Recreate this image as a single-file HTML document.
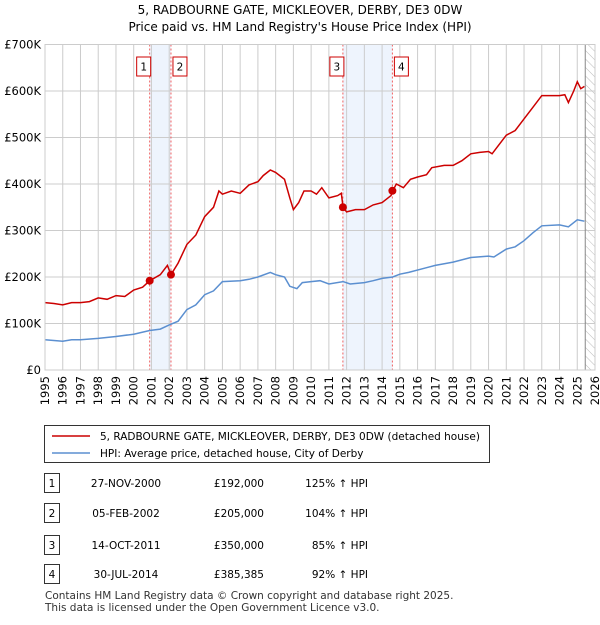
<!DOCTYPE html>
<html><head><meta charset="utf-8"><style>
body{margin:0;background:#fff;font-family:"Liberation Sans","DejaVu Sans",sans-serif;}
svg text{font-family:"DejaVu Sans","Liberation Sans",sans-serif;}
</style></head><body>
<svg id="c" width="600" height="620" xmlns="http://www.w3.org/2000/svg">
<defs><pattern id="hatch" width="6" height="6" patternUnits="userSpaceOnUse" patternTransform="rotate(-45)"><line x1="0" y1="0" x2="0" y2="6" stroke="#bbb" stroke-width="1"/></pattern></defs>
<text x="300" y="14" text-anchor="middle" font-size="12">5, RADBOURNE GATE, MICKLEOVER, DERBY, DE3 0DW</text>
<text x="300" y="31" text-anchor="middle" font-size="12">Price paid vs. HM Land Registry's House Price Index (HPI)</text>
<g id="plot"></g>
<g>
<rect x="44.5" y="425.5" width="445" height="37" fill="#fff" stroke="#333"/>
<line x1="52" y1="436" x2="90" y2="436" stroke="#cc0000" stroke-width="1.5"/>
<text x="100" y="440" font-size="10.5">5, RADBOURNE GATE, MICKLEOVER, DERBY, DE3 0DW (detached house)</text>
<line x1="52" y1="453" x2="90" y2="453" stroke="#5b8fd0" stroke-width="1.5"/>
<text x="100" y="457" font-size="10.5">HPI: Average price, detached house, City of Derby</text>
</g>
<g id="table" font-size="10.5"></g>
<text x="45" y="599" font-size="10.5" fill="#333">Contains HM Land Registry data © Crown copyright and database right 2025.</text>
<text x="45" y="611" font-size="10.5" fill="#333">This data is licensed under the Open Government Licence v3.0.</text>
</svg>
<script>
const yTickLabels=["£0","£100K","£200K","£300K","£400K","£500K","£600K","£700K"];
const yTickValues=[0,100,200,300,400,500,600,700];
const years=[1995,1996,1997,1998,1999,2000,2001,2002,2003,2004,2005,2006,2007,2008,2009,2010,2011,2012,2013,2014,2015,2016,2017,2018,2019,2020,2021,2022,2023,2024,2025,2026];
const redT=[1995,1995.5,1996,1996.5,1997,1997.5,1998,1998.5,1999,1999.5,2000,2000.5,2000.9,2001.5,2001.9,2002.1,2002.5,2003,2003.5,2004,2004.5,2004.8,2005,2005.5,2006,2006.5,2007,2007.3,2007.7,2008,2008.5,2008.8,2009,2009.3,2009.6,2010,2010.3,2010.6,2011,2011.5,2011.7,2011.8,2012,2012.5,2013,2013.5,2014,2014.5,2014.6,2014.8,2015.2,2015.6,2016,2016.5,2016.8,2017.5,2018,2018.5,2019,2019.5,2020,2020.2,2020.5,2021,2021.5,2022,2022.5,2023,2023.5,2024,2024.3,2024.5,2024.8,2025,2025.2,2025.4];
const redV=[145,143,140,145,145,147,155,152,160,158,172,178,192,205,225,205,230,270,290,330,350,385,378,385,380,398,405,418,430,425,410,370,345,360,385,385,378,392,370,375,380,350,340,345,345,355,360,375,385,400,392,410,415,420,435,440,440,450,465,468,470,465,480,505,515,540,565,590,590,590,592,575,600,620,605,610];
const blueT=[1995,1996,1996.5,1997,1998,1999,2000,2000.9,2001.5,2002,2002.5,2003,2003.5,2004,2004.5,2005,2006,2006.5,2007,2007.7,2008,2008.5,2008.8,2009.2,2009.5,2010,2010.5,2011,2011.8,2012.2,2013,2013.5,2014,2014.6,2015,2015.5,2016.5,2017,2018,2019,2020,2020.3,2021,2021.5,2022,2022.5,2023,2024,2024.5,2025,2025.4];
const blueV=[65,62,65,65,68,72,77,85,88,97,105,130,140,162,170,190,192,195,200,210,205,200,180,175,188,190,192,185,190,185,188,192,197,200,206,210,220,225,232,242,245,243,260,265,278,295,310,312,308,323,320];
const saleLabels=["1","2","3","4"];
const saleT=[2000.9,2002.1,2011.79,2014.58];
const saleV=[192,205,350,385.385];
const saleDates=["27-NOV-2000","05-FEB-2002","14-OCT-2011","30-JUL-2014"];
const salePrices=["£192,000","£205,000","£350,000","£385,385"];
const saleHpi=["125% ↑ HPI","104% ↑ HPI","85% ↑ HPI","92% ↑ HPI"];
const X0=45,X1=595,Y0=370,Y1=44.5;
const x=t=>X0+(t-1995)/(2026-1995)*(X1-X0);
const y=v=>Y0-v/700*(Y0-Y1);
const NS="http://www.w3.org/2000/svg";
const plot=document.getElementById('plot');
function mk(tag,at,parent){const e=document.createElementNS(NS,tag);for(const k in at)e.setAttribute(k,at[k]);(parent||plot).appendChild(e);return e;}
let e;
e=mk('rect',{x:x(saleT[0]),y:Y1,width:x(saleT[1])-x(saleT[0]),height:Y0-Y1,fill:'#eef4fd'});


e=mk('rect',{x:x(saleT[2]),y:Y1,width:x(saleT[3])-x(saleT[2]),height:Y0-Y1,fill:'#eef4fd'});


e=mk('rect',{x:x(2025.45),y:Y1,width:X1-x(2025.45),height:Y0-Y1,fill:'url(#hatch)'});


years.forEach(yr=>{
 e=mk('line',{x1:x(yr),x2:x(yr),y1:Y1,y2:Y0,stroke:'#ccc','stroke-width':1});
 
 
 e=mk('text',{x:0,y:0,'font-size':11.5,'text-anchor':'end',transform:`translate(${x(yr)+4},${Y0+6}) rotate(-90)`});
 e.textContent=yr;
 
 
});
yTickValues.forEach((v,i)=>{
 e=mk('line',{x1:X0,x2:X1,y1:y(v),y2:y(v),stroke:'#ccc','stroke-width':1});
 
 
 e=mk('text',{x:X0-4,y:y(v)+4,'font-size':11.5,'text-anchor':'end'});
 e.textContent=yTickLabels[i];
 
 
});
e=mk('line',{x1:x(2025.45),x2:x(2025.45),y1:Y1,y2:Y0,stroke:'#888','stroke-width':1});


saleT.forEach((t,i)=>{
 e=mk('line',{x1:x(t),x2:x(t),y1:Y1,y2:Y0,stroke:'#f06060','stroke-width':1,'stroke-dasharray':'2,2'});
 
 
});
const pts=(T,V)=>T.map((t,i)=>x(t).toFixed(1)+','+y(V[i]).toFixed(1)).join(' ');
e=mk('polyline',{points:pts(blueT,blueV),fill:'none',stroke:'#5b8fd0','stroke-width':1.5});


e=mk('polyline',{points:pts(redT,redV),fill:'none',stroke:'#cc0000','stroke-width':1.5});


saleT.forEach((t,i)=>{
 e=mk('circle',{cx:x(t),cy:y(saleV[i]),r:4,fill:'#cc0000'});
 
 
 const bx=x(t)-(i%2==0?13:-2);
 e=mk('rect',{x:bx,y:57,width:14,height:19,fill:'#fff',stroke:'#cc0000'});
 
 
 e=mk('text',{x:bx+7,y:70.5,'font-size':10.5,'text-anchor':'middle'});
 e.textContent=saleLabels[i];
 
 
});
e=mk('rect',{x:X0,y:Y1,width:X1-X0,height:Y0-Y1,fill:'none',stroke:'#ccc'});


const tbl=document.getElementById('table');
const rowY=[483,513,545,574];
saleLabels.forEach((l,i)=>{
 const ry=rowY[i];
 e=mk('rect',{x:44.5,y:ry-9.5,width:15,height:19,fill:'#fff',stroke:'#333'},tbl);
 
 
 e=mk('text',{x:52,y:ry+4,'text-anchor':'middle'},tbl);e.textContent=l;
 
 
 e=mk('text',{x:126,y:ry+4,'text-anchor':'middle'},tbl);e.textContent=saleDates[i];
 
 
 e=mk('text',{x:264,y:ry+4,'text-anchor':'end'},tbl);e.textContent=salePrices[i];
 
 
 e=mk('text',{x:368,y:ry+4,'text-anchor':'end'},tbl);e.textContent=saleHpi[i];
 
 
});
</script>
</body></html>
